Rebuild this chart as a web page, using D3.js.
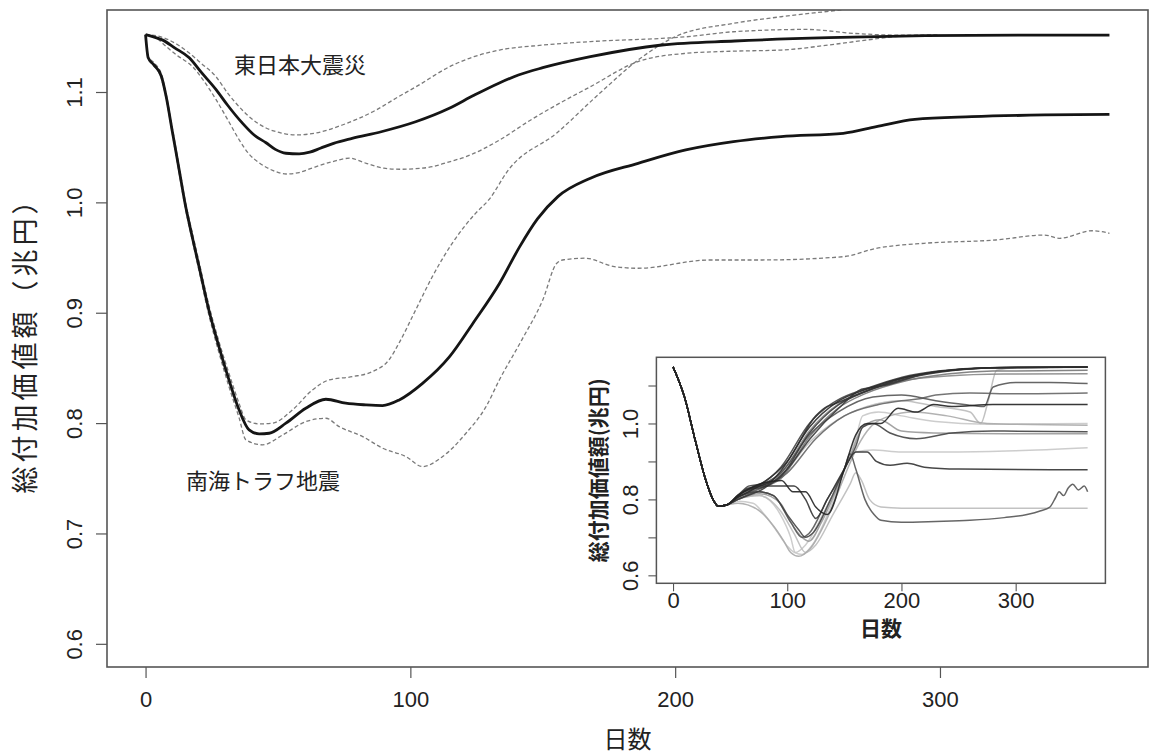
<!DOCTYPE html>
<html><head><meta charset="utf-8">
<script src="https://cdn.jsdelivr.net/npm/d3@7"></script>
<style>
body{margin:0;background:#fff}
text{font-family:"Liberation Sans",Arial,sans-serif;fill:#222}
.jp{font-family:"Noto Sans CJK JP","Noto Sans",sans-serif}
</style>
</head><body>
<svg id="c" width="1152" height="754"></svg>
<script>
// ---------------- data ----------------
const xTicks = [0, 100, 200, 300];
const yTicks = [0.6, 0.7, 0.8, 0.9, 1.0, 1.1];
const insetYTickLabels = [0.6, 0.8, 1.0];
const xDomain = [-14.56, 378.56];
const yDomain = [0.579, 1.1743];
const yTitle = "総付加価値額（兆円）";
const xTitle = "日数";
const insetYTitle = "総付加価値額(兆円)";
const labelEJ = "東日本大震災";
const labelNK = "南海トラフ地震";

// 東日本大震災: median and band (day, 兆円)
const ejMid = [[0,1.152],[3,1.150],[6.5,1.147],[11,1.14],[16.5,1.131],[21,1.118],[26.7,1.102],[31,1.088],[36.5,1.072],[41,1.061],[45.5,1.054],[49,1.048],[53,1.0445],[58,1.044],[62,1.0455],[66,1.049],[71,1.0535],[78,1.058],[89,1.064],[102,1.073],[114.5,1.085],[124,1.097],[133.4,1.108],[140.8,1.1154],[150,1.122],[168,1.132],[195,1.1426],[222.5,1.1462],[258,1.1492],[294.5,1.151],[330,1.1516],[364,1.1516]];
const ejHigh = [[0,1.152],[4,1.151],[8,1.148],[12,1.143],[16.5,1.1353],[21,1.126],[26.6,1.1139],[31,1.099],[36.5,1.0837],[41,1.074],[45.5,1.0674],[51,1.063],[56.8,1.0611],[64.4,1.0629],[74.3,1.0701],[87.1,1.0837],[95,1.095],[102.2,1.1048],[114.8,1.1229],[124,1.132],[133.7,1.138],[150,1.1425],[168,1.1457],[195,1.1486],[204,1.150],[222,1.1546],[249.5,1.1567],[267.5,1.1531],[285,1.1515],[300,1.1516]];
const ejLow = [[0,1.152],[4,1.149],[7.9,1.141],[12,1.133],[17.8,1.1229],[22,1.11],[26.7,1.0928],[31,1.075],[35.4,1.0565],[39,1.044],[43,1.0357],[48,1.029],[53.1,1.0257],[58,1.027],[63,1.0312],[70.6,1.0369],[77,1.04],[83.3,1.0354],[90,1.031],[95.9,1.03],[102,1.0305],[108.3,1.0323],[113.6,1.036],[121,1.0414],[133.7,1.0565],[145,1.074],[155,1.088],[168,1.1048],[186,1.1276],[204,1.135],[222,1.137],[240,1.138],[258,1.1426],[272,1.147],[285,1.1505],[300,1.1516]];

// 南海トラフ地震: median and band
const nkMid = [[0,1.152],[1,1.131],[3,1.125],[6,1.114],[7.8,1.0957],[10.2,1.063],[12.8,1.028],[15,0.998],[17.7,0.968],[20.2,0.9418],[23.9,0.9025],[27.7,0.8693],[31.5,0.8391],[35.3,0.812],[39.1,0.7938],[42.9,0.7902],[46.7,0.7908],[53,0.7999],[60.5,0.8134],[68.1,0.8216],[75.6,0.818],[83.2,0.8165],[89.5,0.8159],[95.8,0.821],[104.6,0.836],[114.8,0.8602],[123.6,0.8903],[133.7,0.9267],[141.3,0.9599],[148,0.985],[155.7,1.0052],[168,1.0219],[186,1.0354],[204,1.0475],[222,1.055],[240,1.0596],[263.5,1.0626],[276,1.0686],[290.5,1.0752],[312,1.0776],[339.5,1.0792],[364,1.0798]];
const nkHigh = [[0,1.152],[1,1.132],[3,1.127],[6,1.116],[7.8,1.098],[10.2,1.066],[12.8,1.031],[15,1.001],[17.7,0.972],[20.2,0.946],[23.9,0.907],[27.7,0.874],[31.5,0.845],[35.3,0.818],[37.9,0.8029],[42.9,0.7993],[47.9,0.7999],[55.5,0.812],[63,0.83],[69.3,0.8391],[78.1,0.8421],[85.6,0.8466],[91.9,0.8572],[95.7,0.8724],[102,0.9025],[108.3,0.9327],[115.8,0.9629],[124.6,0.99],[129.6,1.0022],[137,1.0293],[155.3,1.0629],[171.5,1.0988],[186,1.129],[200.4,1.1505],[222,1.1622],[240,1.1682],[262,1.1743],[280,1.18],[300,1.183]];
const nkLow = [[0,1.152],[1,1.13],[3,1.124],[6,1.112],[7.8,1.094],[10.2,1.061],[12.8,1.025],[15,0.995],[17.7,0.965],[20.2,0.938],[23.9,0.898],[27.7,0.864],[31.5,0.833],[35.3,0.805],[37.9,0.7848],[44.2,0.7803],[51.8,0.7893],[60.6,0.8014],[68.1,0.8044],[73.1,0.7968],[82,0.7878],[89.5,0.7773],[98.3,0.7697],[104.6,0.7606],[112.2,0.7697],[121,0.7908],[128.6,0.815],[133.6,0.8391],[142,0.875],[150,0.9116],[155.3,0.9449],[158,0.948],[166,0.9494],[177,0.9418],[186,0.9403],[213,0.9478],[233,0.9478],[263.5,0.9508],[276,0.9584],[294,0.9629],[321,0.9659],[339.5,0.9704],[345,0.9674],[357.5,0.9743],[364,0.972]];

// inset: individual scenarios (all share the first ~45 days)
const insetStart = [[0,1.149],[3.75,1.1225],[10,1.07],[19.4,0.956],[28.75,0.85],[35,0.80],[39.7,0.782],[47.5,0.786]];
const insetRuns = [
 [[56.9,0.806],[66,0.82],[75.6,0.835],[85,0.845],[94.4,0.875],[119.4,0.99],[144.4,1.058],[169.4,1.09],[200.6,1.12],[231.9,1.137],[275.6,1.147],[363,1.149]],
 [[56.9,0.808],[66,0.83],[75.6,0.83],[85,0.84],[94.4,0.86],[119.4,0.975],[144.4,1.048],[169.4,1.085],[200.6,1.115],[231.9,1.134],[275.6,1.146],[363,1.149]],
 [[56.9,0.81],[66,0.835],[75.6,0.84],[94.4,0.885],[119.4,1.0],[138,1.05],[144.4,1.062],[169.4,1.092],[200.6,1.122],[231.9,1.138],[275.6,1.147],[363,1.148]],
 [[56.9,0.805],[75.6,0.828],[94.4,0.855],[119.4,0.965],[144.4,1.04],[169.4,1.08],[200.6,1.11],[240,1.13],[280,1.138],[363,1.14]],
 [[56.9,0.806],[75.6,0.832],[94.4,0.868],[119.4,0.98],[144.4,1.05],[169.4,1.085],[200.6,1.112],[240,1.125],[290,1.13],[363,1.131]],
 [[56.9,0.812],[75.6,0.838],[100,0.9],[125,1.02],[135,1.045],[140,1.05],[160,1.075],[200,1.118],[250,1.142],[300,1.148],[363,1.149]],
 [[56.9,0.80],[80,0.83],[100,0.88],[120,0.96],[145,1.04],[165,1.09],[172,1.094],[185,1.10],[220,1.13],[280,1.147],[363,1.149]],
 [[56.9,0.805],[75.6,0.83],[94.4,0.86],[119.4,0.95],[144.4,1.01],[170,1.045],[200,1.06],[230,1.045],[260,1.03],[269.4,1.0],[276,1.06],[283.4,1.14],[300,1.147],[363,1.149]],
 [[56.9,0.81],[75.6,0.835],[94.4,0.87],[119.4,0.97],[144.4,1.03],[175,1.07],[200,1.075],[230,1.06],[255,1.05],[272.5,1.045],[280.3,1.096],[300,1.108],[330,1.108],[363,1.105]],
 [[56.9,0.806],[75.6,0.828],[100,0.87],[125,0.96],[150,1.02],[180,1.05],[200,1.06],[216,1.065],[230,1.075],[260,1.08],[300,1.078],[363,1.08]],
 [[56.9,0.81],[75.6,0.84],[95,0.85],[105,0.82],[116,0.82],[125,0.78],[135,0.76],[150,0.88],[160,0.97],[170,1.0],[182,1.0],[197,1.04],[213,1.03],[228,1.05],[244,1.045],[280,1.05],[363,1.05]],
 [[56.9,0.806],[75.6,0.82],[88,0.81],[100,0.76],[110,0.72],[116,0.70],[122,0.71],[138,0.80],[150,0.88],[160,0.94],[166,0.99],[175,1.0],[190,0.975],[213,0.96],[244,0.975],[280,0.98],[363,0.978]],
 [[56.9,0.80],[75.6,0.815],[94,0.79],[103,0.74],[113,0.70],[119,0.69],[130,0.74],[145,0.84],[156,0.92],[166,0.99],[181,1.01],[200,0.98],[228,0.975],[290,0.973],[363,0.973]],
 [[56.9,0.80],[75.6,0.81],[94,0.76],[103,0.70],[106.9,0.66],[113,0.655],[122,0.68],[138,0.78],[150,0.88],[160,0.96],[166,1.02],[180,1.03],[200,1.02],[230,1.005],[275,0.998],[363,1.0]],
 [[56.9,0.795],[70,0.79],[80,0.76],[90,0.72],[100.6,0.675],[106.9,0.66],[116,0.68],[131,0.76],[144,0.84],[153,0.90],[160,0.925],[175,0.93],[200,0.925],[250,0.925],[300,0.928],[363,0.936]],
 [[56.9,0.81],[75.6,0.835],[94,0.835],[106,0.835],[116,0.80],[125,0.75],[135,0.80],[150,0.88],[160,0.925],[170,0.925],[178,0.90],[190,0.89],[205,0.895],[220,0.885],[250,0.88],[363,0.878]],
 [[56.9,0.80],[75.6,0.81],[94,0.77],[106,0.71],[116,0.66],[125,0.68],[140,0.76],[155,0.84],[160,0.87],[165,0.85],[172,0.80],[182,0.78],[200,0.777],[363,0.777]],
 [[56.9,0.80],[75.6,0.82],[88,0.81],[103,0.74],[113,0.70],[119,0.71],[135,0.80],[150,0.88],[155,0.92],[160,0.88],[168,0.80],[176,0.76],[182,0.745],[200,0.74],[230,0.742],[260,0.745],[290,0.752],[310,0.76],[322,0.77],[330,0.78],[335,0.805],[338,0.82],[342,0.81],[346,0.83],[350,0.84],[355,0.825],[360,0.835],[363,0.82]],
 [[56.9,0.79],[75.6,0.77],[88,0.73],[97,0.69],[103,0.66],[110,0.65],[120,0.67],[135,0.75],[150,0.86],[160,0.93],[170,0.98],[190,1.02],[210,1.03],[240,1.02],[275,1.0],[363,0.995]]
];
// styles (kept apart from the data)
const insetGrays = ["#2a2a2a","#3a3a3a","#444","#777","#888","#333","#3a3a3a","#bbb","#555","#666","#222","#444","#999","#c8c8c8","#c8c8c8","#333","#bbb","#555","#aaa"];

// ---------------- drawing ----------------
const svg = d3.select("#c");
const M = {l:107, t:10, r:1148, b:667};
const x = d3.scaleLinear().domain(xDomain).range([M.l, M.r]);
const y = d3.scaleLinear().domain(yDomain).range([M.b, M.t]);

svg.append("clipPath").attr("id","mainClip").append("rect")
  .attr("x",M.l).attr("y",M.t).attr("width",M.r-M.l).attr("height",M.b-M.t);

const line = d3.line().x(d=>x(d[0])).y(d=>y(d[1])).curve(d3.curveMonotoneX);
const g = svg.append("g").attr("clip-path","url(#mainClip)");
[ejHigh, ejLow, nkHigh, nkLow].forEach(s=>{
  g.append("path").attr("d",line(s)).attr("fill","none")
   .attr("stroke","#7a7a7a").attr("stroke-width",1.3).attr("stroke-dasharray","4,2.5");
});
[ejMid, nkMid].forEach(s=>{
  g.append("path").attr("d",line(s)).attr("fill","none")
   .attr("stroke","#151515").attr("stroke-width",2.8).attr("stroke-linejoin","round");
});

// axes
const ax = svg.append("g").attr("transform",`translate(0,${M.b})`)
  .call(d3.axisBottom(x).tickValues(xTicks).tickSize(11).tickFormat(d3.format("d")));
ax.select(".domain").remove();
ax.selectAll("line").attr("stroke","#555").attr("stroke-width",1.2);
ax.selectAll("text").attr("dy",null).attr("y",40).style("font-size","22px").attr("fill","#222")
  .style("font-family","'Liberation Sans',Arial,sans-serif");

const ay = svg.append("g").attr("transform",`translate(${M.l},0)`)
  .call(d3.axisLeft(y).tickValues(yTicks).tickSize(11).tickFormat(d3.format(".1f")));
ay.select(".domain").remove();
ay.selectAll("line").attr("stroke","#555").attr("stroke-width",1.2);
ay.selectAll("text").attr("x",null).attr("dy",null)
  .attr("text-anchor","middle")
  .attr("transform",`translate(${82-M.l},0) rotate(-90)`)
  .style("font-size","22px").attr("fill","#222")
  .style("font-family","'Liberation Sans',Arial,sans-serif");

svg.append("rect").attr("x",M.l).attr("y",M.t).attr("width",M.r-M.l).attr("height",M.b-M.t)
  .attr("fill","none").attr("stroke","#555").attr("stroke-width",1.6);

svg.append("text").attr("class","jp").attr("x",(M.l+M.r)/2).attr("y",737)
  .attr("text-anchor","middle").attr("dominant-baseline","central")
  .style("font-size","24px").text(xTitle);
svg.append("text").attr("class","jp")
  .attr("transform",`translate(23,${(M.t+M.b)/2}) rotate(-90)`)
  .attr("text-anchor","middle").attr("dominant-baseline","central")
  .style("font-size","27px").style("letter-spacing","4px").text(yTitle);

svg.append("text").attr("class","jp").attr("x",300).attr("y",63)
  .attr("text-anchor","middle").attr("dominant-baseline","central")
  .style("font-size","22px").attr("fill","#333").text(labelEJ);
svg.append("text").attr("class","jp").attr("x",263).attr("y",479)
  .attr("text-anchor","middle").attr("dominant-baseline","central")
  .style("font-size","22px").attr("fill","#333").text(labelNK);

// ---------------- inset ----------------
const I = {l:656.4, t:357.3, r:1105.4, b:583.3};
const xi = d3.scaleLinear().domain(xDomain).range([I.l, I.r]);
const yi = d3.scaleLinear().domain(yDomain).range([I.b, I.t]);
svg.append("rect").attr("x",I.l).attr("y",I.t).attr("width",I.r-I.l).attr("height",I.b-I.t).attr("fill","#fff");
svg.append("clipPath").attr("id","insetClip").append("rect")
  .attr("x",I.l).attr("y",I.t).attr("width",I.r-I.l).attr("height",I.b-I.t);
const li = d3.line().x(d=>xi(d[0])).y(d=>yi(d[1])).curve(d3.curveMonotoneX);
const gi = svg.append("g").attr("clip-path","url(#insetClip)");
const order = d3.range(insetRuns.length).sort((a,b)=>d3.descending(d3.color(insetGrays[a]).r, d3.color(insetGrays[b]).r));
order.forEach(i=>{
  gi.append("path").attr("d",li(insetStart.concat(insetRuns[i]))).attr("fill","none")
    .attr("stroke",insetGrays[i]).attr("stroke-width",1.5).attr("stroke-opacity",0.9);
});
const axi = svg.append("g").attr("transform",`translate(0,${I.b})`)
  .call(d3.axisBottom(xi).tickValues(xTicks).tickSize(8).tickFormat(d3.format("d")));
axi.select(".domain").remove();
axi.selectAll("line").attr("stroke","#555").attr("stroke-width",1.1);
axi.selectAll("text").attr("dy",null).attr("y",25).style("font-size","22px").attr("fill","#222")
  .style("font-family","'Liberation Sans',Arial,sans-serif");
const ayi = svg.append("g").attr("transform",`translate(${I.l},0)`)
  .call(d3.axisLeft(yi).tickValues(yTicks).tickSize(8).tickFormat(d=>insetYTickLabels.some(v=>Math.abs(v-d)<1e-9)?d3.format(".1f")(d):""));
ayi.select(".domain").remove();
ayi.selectAll("line").attr("stroke","#555").attr("stroke-width",1.1);
ayi.selectAll("text").attr("x",null).attr("dy",null).attr("text-anchor","middle")
  .attr("transform",`translate(${637.5-I.l},0) rotate(-90)`)
  .style("font-size","22px").attr("fill","#222")
  .style("font-family","'Liberation Sans',Arial,sans-serif");
svg.append("rect").attr("x",I.l).attr("y",I.t).attr("width",I.r-I.l).attr("height",I.b-I.t)
  .attr("fill","none").attr("stroke","#555").attr("stroke-width",1.5);
svg.append("text").attr("class","jp").attr("x",(I.l+I.r)/2).attr("y",627)
  .attr("text-anchor","middle").attr("dominant-baseline","central")
  .style("font-size","21px").style("font-weight","bold").text(xTitle);
svg.append("text").attr("class","jp")
  .attr("transform",`translate(597,${(I.t+I.b)/2}) rotate(-90)`)
  .attr("text-anchor","middle").attr("dominant-baseline","central")
  .style("font-size","21px").style("font-weight","bold").text(insetYTitle);
</script>
</body></html>
